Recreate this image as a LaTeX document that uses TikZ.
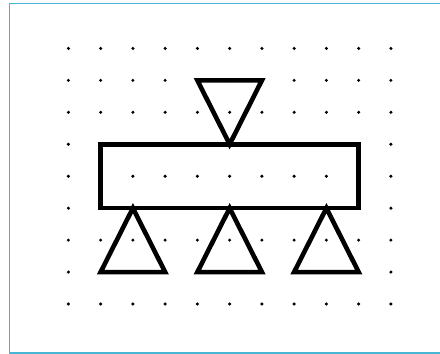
\documentclass[tikz,border=0pt]{standalone}
\definecolor{framecol}{RGB}{70,182,212}
\tikzset{
  gdot/.style={fill=black,draw=none},
  shapeline/.style={draw=black,line width=4.6pt,line join=miter},
  frameline/.style={draw=framecol,line width=1.8pt}
}
\begin{document}
\begin{tikzpicture}[x=1pt,y=-1pt]
\useasboundingbox (0,0) rectangle (440,354);
\draw[frameline] (445,3.4) -- (9.4,3.4) -- (9.4,352.6) -- (445,352.6);
% grid coordinates
\foreach \i in {0,...,10}{
  \foreach \j in {0,...,8}{
    \coordinate (g\i-\j) at ({68.4+32.25*\i},{48.4+31.95*\j});
    \fill[gdot] (g\i-\j) circle (1.7);
  }
}
% top inverted triangle
\draw[shapeline] (g4-1) -- (g6-1) -- (g5-3) -- cycle;
% rectangle
\draw[shapeline] (g1-3) rectangle (g9-5);
% bottom triangles
\draw[shapeline] (g2-5) -- (g3-7) -- (g1-7) -- cycle;
\draw[shapeline] (g5-5) -- (g6-7) -- (g4-7) -- cycle;
\draw[shapeline] (g8-5) -- (g9-7) -- (g7-7) -- cycle;
\end{tikzpicture}
\end{document}
